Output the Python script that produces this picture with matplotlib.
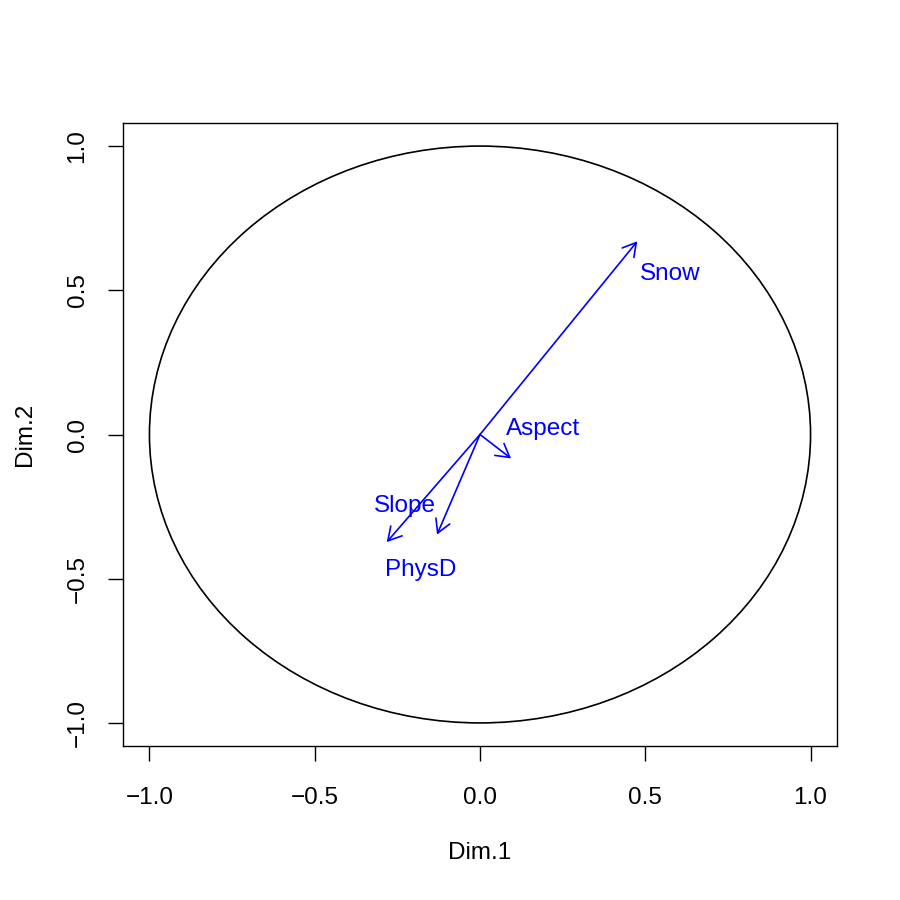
import matplotlib
matplotlib.use("Agg")
import matplotlib.pyplot as plt
from matplotlib.patches import Circle, FancyArrowPatch

plt.rcParams['font.family'] = ['Liberation Sans', 'DejaVu Sans']

variables = ["Snow", "Aspect", "Slope", "PhysD"]
dim1 = [0.476, 0.094, -0.282, -0.130]
dim2 = [0.670, -0.083, -0.373, -0.347]
label_x = [0.576, 0.191, -0.227, -0.180]
label_y = [0.535, 0.000, -0.267, -0.490]
ticks = [-1.0, -0.5, 0.0, 0.5, 1.0]
tick_labels = ["\u22121.0", "\u22120.5", "0.0", "0.5", "1.0"]

FS = 17.5

fig = plt.figure(figsize=(9, 9), dpi=100)
ax = fig.add_axes([123/900, 154/900, 714/900, 623/900])
ax.set_xlim(-1.08, 1.08)
ax.set_ylim(-1.08, 1.08)

ax.add_patch(Circle((0, 0), 1.0, fill=False, edgecolor='black', lw=1.2))

for x, y, lx, ly, name in zip(dim1, dim2, label_x, label_y, variables):
    arr = FancyArrowPatch((0, 0), (x, y), arrowstyle='->,head_length=0.47,head_width=0.27',
                          mutation_scale=20, color='blue', lw=1.2, shrinkA=0, shrinkB=0)
    ax.add_patch(arr)
    ax.text(lx, ly, name, color='blue', fontsize=FS, ha='center', va='baseline')

ax.set_xticks(ticks)
ax.set_xticklabels(tick_labels)
ax.set_yticks(ticks)
ax.set_yticklabels(tick_labels, rotation=90, va='center')
ax.tick_params(axis='both', direction='out', length=10.8, width=1, labelsize=FS)
ax.tick_params(axis='x', pad=19)
ax.tick_params(axis='y', pad=14)
for s in ax.spines.values():
    s.set_linewidth(1)
ax.set_xlabel("Dim.1", fontsize=FS)
ax.set_ylabel("Dim.2", fontsize=FS)
ax.xaxis.set_label_coords(0.5, -0.172)
ax.yaxis.set_label_coords(-0.137, 0.5)
ax.xaxis.label.set_va('center')
ax.yaxis.label.set_va('center')

fig.savefig("out.png", dpi=100)
